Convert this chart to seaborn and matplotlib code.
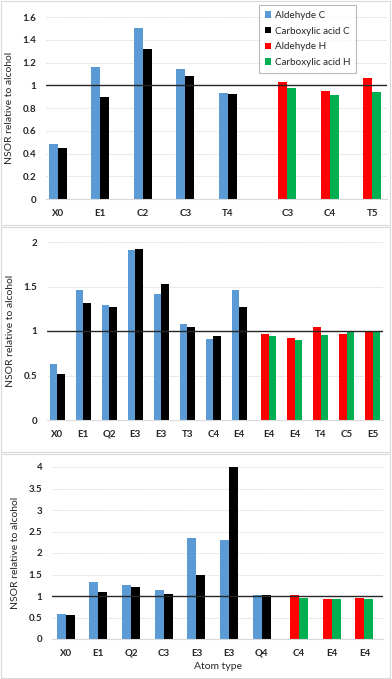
import numpy as np
import pandas as pd
import matplotlib
matplotlib.use("Agg")
import matplotlib.pyplot as plt
from matplotlib.patches import Patch, Rectangle
import seaborn as sns

# data
p1_c_labels = ['X0', 'E1', 'C2', 'C3', 'T4']
p1_ald_c = [0.48, 1.16, 1.50, 1.14, 0.93]
p1_acid_c = [0.45, 0.90, 1.32, 1.08, 0.92]
p1_h_labels = ['C3', 'C4', 'T5']
p1_ald_h = [1.03, 0.95, 1.06]
p1_acid_h = [0.98, 0.91, 0.94]

p2_c_labels = ['X0', 'E1', 'Q2', 'E3', 'E3', 'T3', 'C4', 'E4']
p2_ald_c = [0.63, 1.46, 1.29, 1.91, 1.42, 1.08, 0.91, 1.46]
p2_acid_c = [0.52, 1.31, 1.27, 1.92, 1.53, 1.05, 0.94, 1.27]
p2_h_labels = ['E4', 'E4', 'T4', 'C5', 'E5']
p2_ald_h = [0.97, 0.92, 1.04, 0.97, 0.99]
p2_acid_h = [0.94, 0.90, 0.95, 1.00, 0.99]

p3_c_labels = ['X0', 'E1', 'Q2', 'C3', 'E3', 'E3', 'Q4']
p3_ald_c = [0.59, 1.32, 1.26, 1.13, 2.36, 2.30, 1.03]
p3_acid_c = [0.55, 1.10, 1.20, 1.05, 1.49, 3.99, 1.02]
p3_h_labels = ['C4', 'E4', 'E4']
p3_ald_h = [1.02, 0.93, 0.96]
p3_acid_h = [0.95, 0.94, 0.92]

palette = {
    'Aldehyde C': '#5B9BD5',
    'Carboxylic acid C': '#000000',
    'Aldehyde H': '#FF0000',
    'Carboxylic acid H': '#00B050',
}

sns.set_style("white")
plt.rcParams['font.family'] = ['Lato', 'DejaVu Sans']

W, H = 392, 679
fig = plt.figure(figsize=(W / 100, H / 100), dpi=100)

# panel frames (light grey boxes like the Excel chart areas)
for top, bot in [(1, 225), (227, 452), (454, 678)]:
    fig.patches.append(Rectangle((1 / W, 1 - bot / H), 389 / W, (bot - top) / H,
                                 transform=fig.transFigure, fill=False,
                                 edgecolor='#D9D9D9', lw=0.8))


def panel(rect_px, c_labels, ald_c, acid_c, h_labels, ald_h, acid_h,
          gap, width, ylim, ystep, xpad):
    left, right, top, bottom = rect_px
    ax = fig.add_axes([left / W, 1 - bottom / H, (right - left) / W, (bottom - top) / H])
    nc = len(c_labels)
    xc = np.arange(nc, dtype=float)
    xh = nc - 1 + gap + np.arange(len(h_labels), dtype=float)

    dc = pd.DataFrame({
        'x': np.concatenate([xc, xc]),
        'val': list(ald_c) + list(acid_c),
        'series': ['Aldehyde C'] * nc + ['Carboxylic acid C'] * nc,
    })
    nh = len(h_labels)
    dh = pd.DataFrame({
        'x': np.concatenate([xh, xh]),
        'val': list(ald_h) + list(acid_h),
        'series': ['Aldehyde H'] * nh + ['Carboxylic acid H'] * nh,
    })
    sns.barplot(data=dc, x='x', y='val', hue='series', palette=palette,
                native_scale=True, width=width, dodge=True, gap=0,
                legend=False, ax=ax, linewidth=0, saturation=1)
    sns.barplot(data=dh, x='x', y='val', hue='series', palette=palette,
                native_scale=True, width=width, dodge=True, gap=0,
                legend=False, ax=ax, linewidth=0, saturation=1)

    ax.axhline(1, color='#262626', lw=1.0, zorder=5)
    ax.set_ylim(*ylim)
    ax.set_yticks(np.arange(0, ylim[1] + 1e-9, ystep))
    ax.set_yticklabels([f'{t:g}' for t in np.arange(0, ylim[1] + 1e-9, ystep)],
                       fontsize=7, fontweight='bold')
    ax.set_xticks(np.concatenate([xc, xh]))
    ax.set_xticklabels(list(c_labels) + list(h_labels), fontsize=7, fontweight='bold')
    ax.set_xlim(-xpad[0], xh[-1] + xpad[1])
    ax.yaxis.grid(True, color='#D9D9D9', lw=0.6, ls=(0, (2, 1)))
    ax.set_axisbelow(True)
    for s in ['top', 'right', 'left']:
        ax.spines[s].set_visible(False)
    ax.spines['bottom'].set_color('#D9D9D9')
    ax.spines['bottom'].set_linewidth(0.8)
    ax.tick_params(axis='both', length=0, pad=7)
    ax.set_xlabel('')
    ax.set_ylabel('NSOR relative to alcohol', fontsize=7.5, labelpad=6)
    return ax


ax1 = panel((46, 387, 17, 199), p1_c_labels, p1_ald_c, p1_acid_c,
            p1_h_labels, p1_ald_h, p1_acid_h,
            gap=1.4, width=0.42, ylim=(0, 1.6), ystep=0.2, xpad=(0.28, 0.35))
ax2 = panel((47, 383, 242, 420), p2_c_labels, p2_ald_c, p2_acid_c,
            p2_h_labels, p2_ald_h, p2_acid_h,
            gap=1.13, width=0.56, ylim=(0, 2.0), ystep=0.5, xpad=(0.4, 0.4))
ax3 = panel((52, 383, 467, 639), p3_c_labels, p3_ald_c, p3_acid_c,
            p3_h_labels, p3_ald_h, p3_acid_h,
            gap=1.14, width=0.55, ylim=(0, 4.0), ystep=0.5, xpad=(0.42, 0.57))
ax3.set_xlabel('Atom type', fontsize=7.5, labelpad=3)

handles = [Patch(facecolor=c, edgecolor='none', label=k) for k, c in palette.items()]
leg = ax1.legend(handles=handles, loc='upper right', bbox_to_anchor=(0.909, 1.066),
                 fontsize=7.1, frameon=True, fancybox=False, edgecolor='#A6A6A6',
                 handlelength=0.6, handleheight=0.6, handletextpad=0.35,
                 labelspacing=0.68, borderpad=0.6, borderaxespad=0)
leg.get_frame().set_linewidth(0.8)

fig.savefig('out.png', dpi=100)
